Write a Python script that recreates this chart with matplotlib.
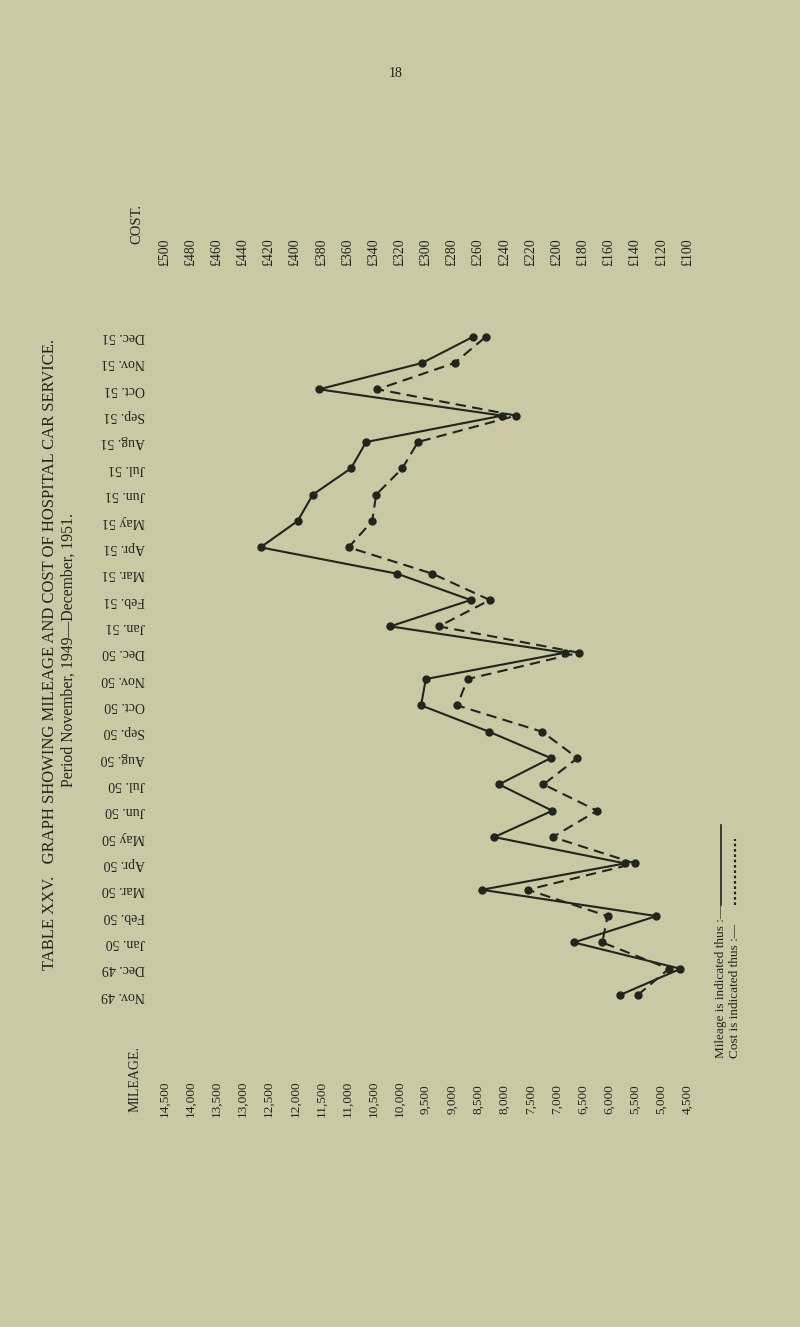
# Table XXV - mileage and cost of hospital car service (page printed sideways)
import numpy as np
import matplotlib
matplotlib.use('Agg')
import matplotlib.pyplot as plt
from matplotlib.lines import Line2D

months=['Nov. 49','Dec. 49','Jan. 50','Feb. 50','Mar. 50','Apr. 50','May 50','Jun. 50','Jul. 50','Aug. 50','Sep. 50','Oct. 50','Nov. 50',
        'Dec. 50','Jan. 51','Feb. 51','Mar. 51','Apr. 51','May 51','Jun. 51','Jul. 51','Aug. 51','Sep. 51','Oct. 51','Nov. 51','Dec. 51']
mileage=[5790,4630,6670,5090,8430,5690,8190,7080,8100,7110,8290,9590,9500,
         6840,10180,8640,10050,12660,11950,11660,10930,10640,8040,11540,9570,8590]
cost=[138,114,165,161,222,140,203,169,210,184,211,276,268,
      183,290,251,295,359,341,338,318,306,231,337,278,254]
mileage_ticks=list(range(14500,4000,-500))
cost_ticks=list(range(500,80,-20))

BG='#cac9a4';INK='#232320'
plt.rcParams['font.family']=['Liberation Serif','DejaVu Serif']

fig=plt.figure(figsize=(8,13.27),dpi=100,facecolor=BG)
ax=fig.add_axes([0,0,1,1]);ax.set_facecolor(BG)
# x: mileage, inverted so high values sit on the left; y: month index (Nov 49 = 0 at bottom)
ax.set_xlim(17641,2345);ax.set_ylim(-12.6,37.78);ax.axis('off')
ax2=ax.twiny();ax2.set_xlim(625.7,13.8);ax2.axis('off')

k=np.arange(len(months))
ax.plot(mileage,k,'-',color=INK,lw=1.5,marker='o',ms=5,zorder=3)
ax2.plot(cost,k,color=INK,lw=1.5,ls=(0,(5,3)),marker='o',ms=5,zorder=3)

# month labels (upside down, as on the turned page)
ty=ax.get_yaxis_transform()
for i,m in enumerate(months):
    ax.text(0.181,i,m,transform=ty,rotation=180,ha='right',va='center',fontsize=10,color=INK)

# cost scale along the top, mileage scale along the bottom
tx2=ax2.get_xaxis_transform()
for c in cost_ticks:
    ax2.text(c,0.810,f'£{c}',transform=tx2,rotation=90,ha='center',va='center',fontsize=10,color=INK)
tx=ax.get_xaxis_transform()
for m in mileage_ticks:
    ax.text(m,0.172,f'{m:,}',transform=tx,rotation=90,ha='center',va='center',fontsize=9.5,color=INK)

fig.text(0.171,0.831,'COST.',rotation=90,ha='center',va='center',fontsize=10.5,color=INK)
fig.text(0.169,0.187,'MILEAGE.',rotation=90,ha='center',va='center',fontsize=10,color=INK)
fig.text(0.0625,0.507,'TABLE XXV.   GRAPH SHOWING MILEAGE AND COST OF HOSPITAL CAR SERVICE.',
         rotation=90,ha='center',va='center',fontsize=12,color=INK)
fig.text(0.086,0.51,'Period November, 1949\u2014December, 1951.',rotation=90,ha='center',va='center',fontsize=11.3,color=INK)
fig.text(0.495,0.9445,'18',ha='center',va='center',fontsize=10,color=INK)

# legend
fig.text(0.901,0.203,'Mileage is indicated thus :\u2014',rotation=90,ha='center',va='bottom',fontsize=9.5,color=INK)
fig.text(0.919,0.203,'Cost is indicated thus :\u2014',rotation=90,ha='center',va='bottom',fontsize=9.5,color=INK)
fig.add_artist(Line2D([0.901,0.901],[0.318,0.378],transform=fig.transFigure,color=INK,lw=1.2))
fig.add_artist(Line2D([0.919,0.919],[0.318,0.368],transform=fig.transFigure,color=INK,lw=1.6,ls=(0,(1.2,1.2))))

fig.savefig('out.png',dpi=100,facecolor=BG)
